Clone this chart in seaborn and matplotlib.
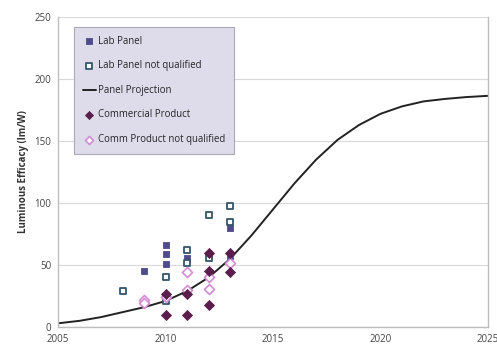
import matplotlib
matplotlib.use("Agg")
import matplotlib.pyplot as plt
import seaborn as sns
import pandas as pd

# Lab panels
lab_years = [2009, 2010, 2010, 2010, 2011, 2012, 2013, 2013]
lab_vals = [45, 66, 59, 51, 56, 58, 80, 57]

lab_nq_years = [2008, 2010, 2010, 2011, 2011, 2012, 2012, 2013, 2013]
lab_nq_vals = [29, 40, 21, 62, 52, 90, 56, 98, 85]

# Commercial products
comm_years = [2010, 2010, 2011, 2011, 2012, 2012, 2012, 2013, 2013]
comm_vals = [27, 10, 27, 10, 60, 45, 18, 60, 44]

comm_nq_years = [2009, 2009, 2010, 2011, 2011, 2012, 2012, 2013]
comm_nq_vals = [22, 19, 24, 44, 30, 40, 31, 52]

# Panel projection
proj_years = list(range(2005, 2026))
proj_vals = [3, 5, 8, 12, 16, 21, 29, 40, 55, 74, 95, 116, 135, 151, 163,
             172, 178, 182, 184, 185.5, 186.5]

sns.set_theme(style="white")
plt.rcParams["font.family"] = ["Open Sans", "DejaVu Sans"]

fig = plt.figure(figsize=(4.97, 3.49), dpi=100)
ax = fig.add_axes([0.117, 0.063, 0.865, 0.888])

c_lab = "#4f4b8c"
c_lab_nq = "#33566a"
c_comm = "#5a1d4c"
c_comm_nq = "#d48ad6"

sns.scatterplot(x=lab_years, y=lab_vals, ax=ax, marker="s", s=24,
                color=c_lab, edgecolor=c_lab, linewidth=0.6, label="Lab Panel", zorder=3)
sns.scatterplot(x=lab_nq_years, y=lab_nq_vals, ax=ax, marker="s", s=24,
                facecolor="white", edgecolor=c_lab_nq, linewidth=1.3,
                label="Lab Panel not qualified", zorder=3)
sns.lineplot(x=proj_years, y=proj_vals, ax=ax, color="#222222", linewidth=1.4,
             label="Panel Projection", zorder=2)
sns.scatterplot(x=comm_years, y=comm_vals, ax=ax, marker="D", s=26,
                color=c_comm, edgecolor=c_comm, linewidth=0.6,
                label="Commercial Product", zorder=4)
sns.scatterplot(x=comm_nq_years, y=comm_nq_vals, ax=ax, marker="D", s=26,
                facecolor="white", edgecolor=c_comm_nq, linewidth=1.2,
                label="Comm Product not qualified", zorder=3)

ax.set_xlim(2005, 2025)
ax.set_ylim(0, 250)
ax.set_xticks([2005, 2010, 2015, 2020, 2025])
ax.set_yticks([0, 50, 100, 150, 200, 250])
ax.yaxis.grid(True, color="#d9d9d9", linewidth=0.8)
ax.set_axisbelow(True)
for side in ["left", "bottom", "right"]:
    ax.spines[side].set_color("#bdbdbd")
    ax.spines[side].set_linewidth(1.0)
ax.spines["top"].set_visible(False)
ax.tick_params(axis="both", labelsize=7, length=3, width=0.8,
               direction="out", pad=2)
ax.tick_params(axis="x", colors="#bdbdbd", labelcolor="#444444")
ax.tick_params(axis="y", colors="#bdbdbd", labelcolor="#444444")
ax.set_ylabel("Luminous Efficacy (lm/W)", fontsize=7, fontweight="bold",
              color="#333333", labelpad=4)
ax.set_xlabel("")

leg = ax.legend(loc="upper left", bbox_to_anchor=(0.038, 0.968), fontsize=6.9,
                frameon=True, fancybox=False, labelspacing=1.42,
                handlelength=1.3, handletextpad=0.3, borderpad=0.9,
                borderaxespad=0.0, markerscale=0.8)
frame = leg.get_frame()
frame.set_facecolor("#dedbea")
frame.set_edgecolor("#a8a8b8")
frame.set_alpha(1.0)
frame.set_linewidth(0.8)

fig.savefig("out.png", dpi=100)
